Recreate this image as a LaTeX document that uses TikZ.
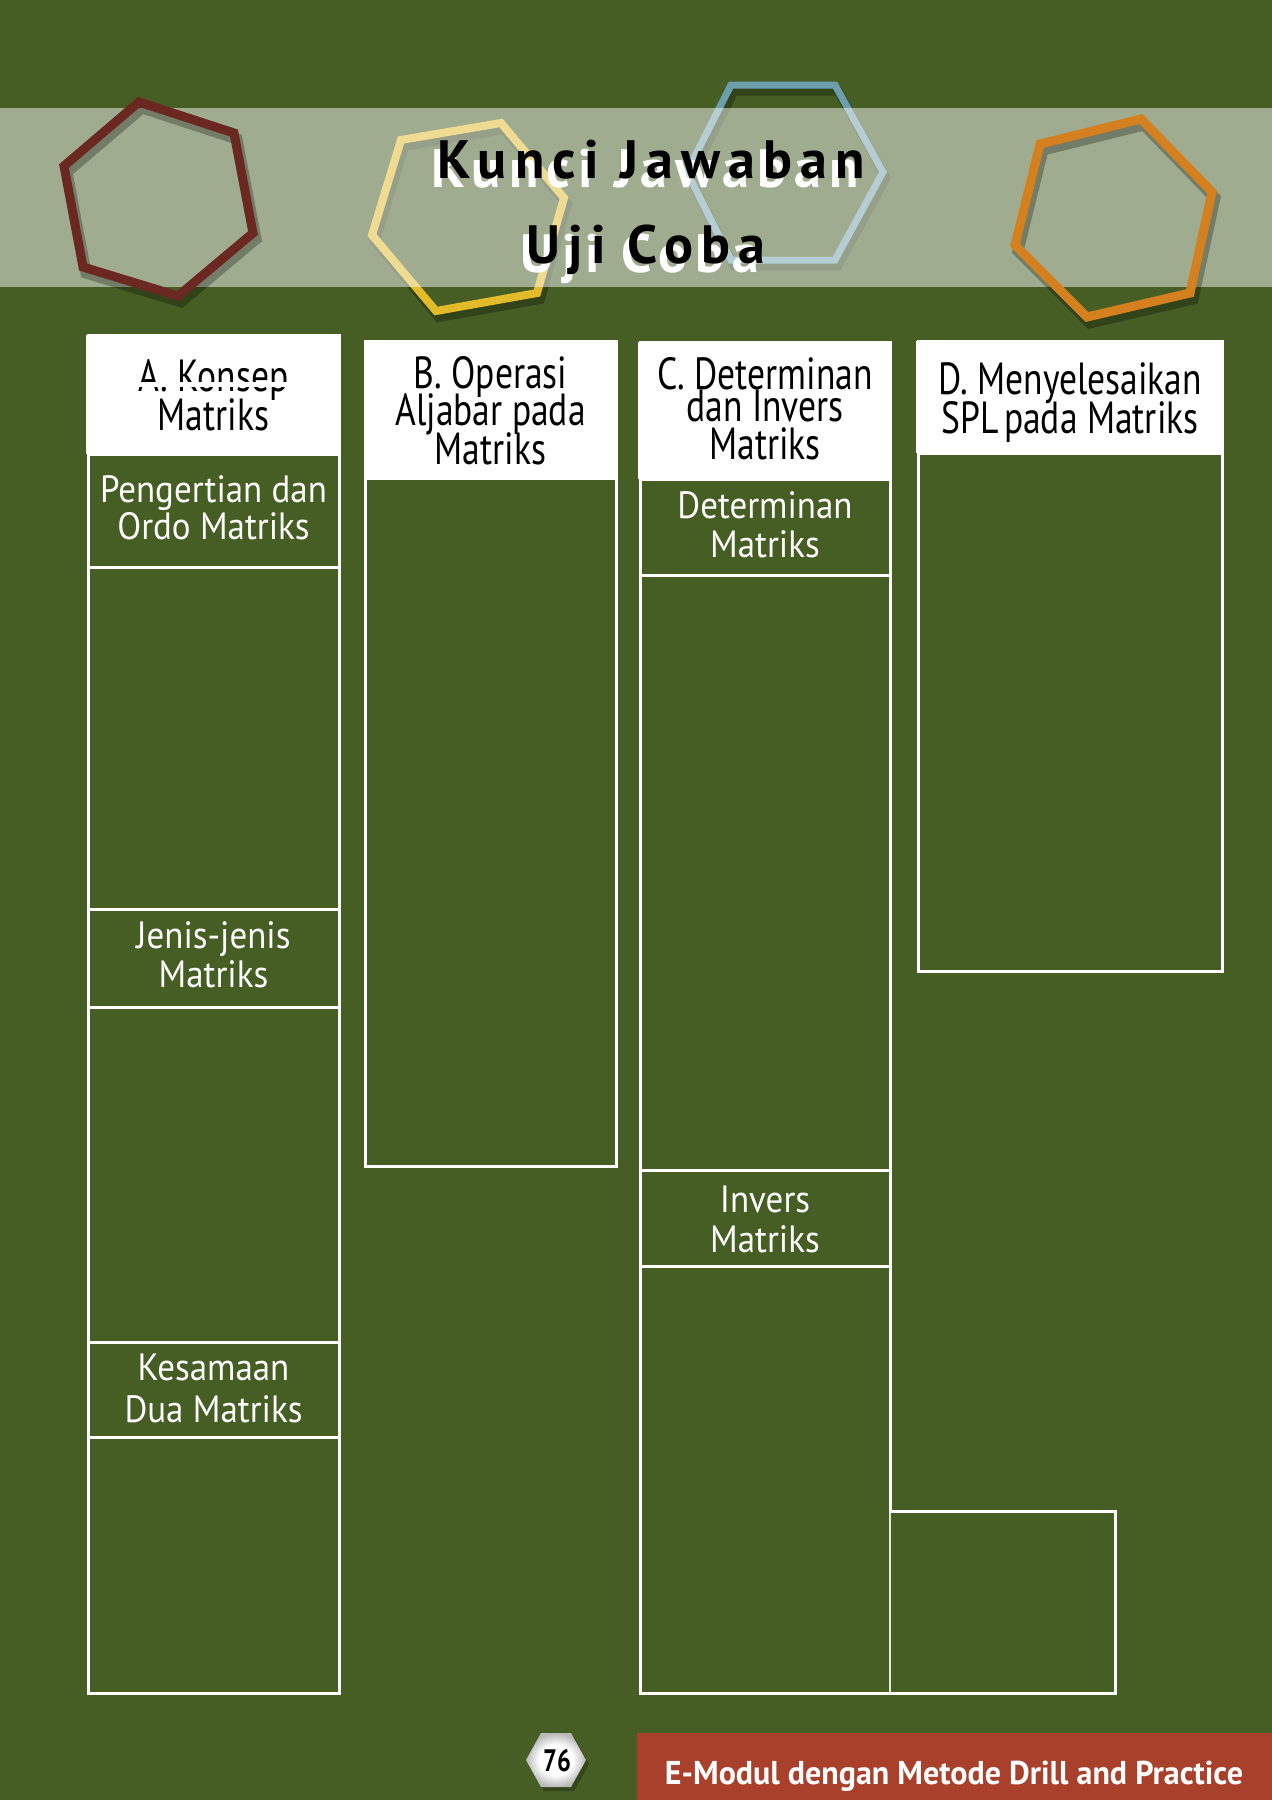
\documentclass[tikz,border=0pt]{standalone}
\usepackage{fontspec}
\setmainfont{PT Sans}
\newfontfamily\titlefont[LetterSpace=15]{PT Sans}
\newfontfamily\handfont[FakeStretch=0.79]{PT Sans}
\newfontfamily\subfont[FakeStretch=0.92]{PT Sans}
\newfontfamily\footfont[FakeStretch=0.97]{PT Sans}
\definecolor{bg}{HTML}{465E24}
\definecolor{hexbrown}{HTML}{6B2820}
\definecolor{hexyellow}{HTML}{E2BA2A}
\definecolor{hexteal}{HTML}{6C9FAB}
\definecolor{hexorange}{HTML}{D4801E}
\definecolor{barred}{HTML}{A8402C}
\pgfdeclareradialshading{pageshade}{\pgfpoint{0bp}{0bp}}{color(0bp)=(white); color(14bp)=(white); color(25bp)=(gray!55); color(50bp)=(gray!55)}
\begin{document}
\begin{tikzpicture}[x=1pt,y=-1pt,
  boxline/.style={draw=white,line width=3pt,line join=miter},
  hd/.style={font=\handfont\fontsize{45}{45}\selectfont,text=black,anchor=base,inner sep=0pt},
  sb/.style={font=\subfont\fontsize{38}{38}\selectfont,text=white,anchor=base,inner sep=0pt},
  ttl/.style={font=\titlefont\bfseries\fontsize{54}{54}\selectfont,anchor=base,inner sep=0pt},
  hexshadow/.style={draw=black,opacity=0.28,line join=miter},
  hexline/.style={line join=miter},
]
\useasboundingbox (0,0) rectangle (1272,1800);
\fill[bg] (0,0) rectangle (1272,1800);

% hexagons under the band
\draw[hexshadow,line width=10pt,shift={(3,6)}] (501,123) -- (564,198) -- (537,293) -- (436,311) -- (372,235) -- (401,140) -- cycle;
\draw[hexline,draw=hexyellow,line width=8pt] (501,123) -- (564,198) -- (537,293) -- (436,311) -- (372,235) -- (401,140) -- cycle;
\draw[hexshadow,line width=9pt,shift={(3,6)}] (731,85) -- (835,85) -- (883,172) -- (835,260) -- (731,260) -- (687,172) -- cycle;
\draw[hexline,draw=hexteal,line width=7pt] (731,85) -- (835,85) -- (883,172) -- (835,260) -- (731,260) -- (687,172) -- cycle;

% band
\fill[white,opacity=0.49] (0,108) rectangle (1272,287);

% title
\node[ttl,text=white] (t1s) at (645,187) {Kunci Jawaban};
\node[ttl,text=black] (t1) at (651,178) {Kunci Jawaban};
\node[ttl,text=white] (t2s) at (640,272) {Uji Coba};
\node[ttl,text=black] (t2) at (646,263) {Uji Coba};

% hexagons over the band
\draw[hexshadow,line width=11pt,shift={(3,6)}] (139,102) -- (234,133) -- (253,233) -- (178,296) -- (83,267) -- (64,166) -- cycle;
\draw[hexline,draw=hexbrown,line width=9pt] (139,102) -- (234,133) -- (253,233) -- (178,296) -- (83,267) -- (64,166) -- cycle;
\draw[hexshadow,line width=11pt,shift={(3,6)}] (1141,119) -- (1212,192) -- (1190,293) -- (1087,317) -- (1015,245) -- (1040,144) -- cycle;
\draw[hexline,draw=hexorange,line width=9pt] (1141,119) -- (1212,192) -- (1190,293) -- (1087,317) -- (1015,245) -- (1040,144) -- cycle;

% column A
\fill[white] (86,335) rectangle (341,454);
\draw[boxline] (88,335) rectangle (339,1693);
\draw[boxline] (88,454) -- (339,454);
\draw[boxline] (88,567) -- (339,567);
\draw[boxline] (88,909) -- (339,909);
\draw[boxline] (88,1007) -- (339,1007);
\draw[boxline] (88,1342) -- (339,1342);
\draw[boxline] (88,1437) -- (339,1437);

% column B
\fill[white] (364,341) rectangle (617,478);
\draw[boxline] (365,341) rectangle (616,1166);
\draw[boxline] (365,478) -- (616,478);

% column C with its extension
\fill[white] (638,342) rectangle (892,479);
\draw[boxline] (640,342) -- (890,342) -- (890,1511) -- (1115,1511) -- (1115,1693) -- (640,1693) -- cycle;
\draw[draw=white!85!bg,line width=1.3pt] (890,1511) -- (890,1693);
\draw[boxline] (640,479) -- (890,479);
\draw[boxline] (640,575) -- (890,575);
\draw[boxline] (640,1170) -- (890,1170);
\draw[boxline] (640,1266) -- (890,1266);

% column D
\fill[white] (916,341) rectangle (1224,453);
\draw[boxline] (918,341) rectangle (1222,971);
\draw[boxline] (918,453) -- (1222,453);

% header labels
\node[hd] (a1) at (213.5,391) {A. Konsep};
\fill[white] (132,382) rectangle (296,387);
\node[hd] (a2) at (213.5,430) {Matriks};

\node[hd] (b1) at (490.5,388) {B. Operasi};
\node[hd] (b2) at (490.5,425) {Aljabar pada};
\node[hd] (b3) at (490.5,464) {Matriks};

\node[hd] (c1) at (765,389) {C. Determinan};
\node[hd] (c2) at (765,421) {dan Invers};
\node[hd] (c3) at (765,459) {Matriks};

\node[hd] (d1) at (1070,394) {D. Menyelesaikan};
\node[hd] (d2) at (1070,433) {SPL\kern-4pt{} pada Matriks};

% sub labels
\node[sb] (p1) at (213.5,502) {Pengertian dan};
\node[sb] (p2) at (213.5,539) {Ordo Matriks};
\node[sb] (j1) at (213.5,948) {Jenis-jenis};
\node[sb] (j2) at (213.5,987) {Matriks};
\node[sb] (k1) at (213.5,1380) {Kesamaan};
\node[sb] (k2) at (213.5,1422) {Dua Matriks};
\node[sb] (e1) at (765,518) {Determinan};
\node[sb] (e2) at (765,557) {Matriks};
\node[sb] (i1) at (765,1212) {Invers};
\node[sb] (i2) at (765,1252) {Matriks};

% footer
\fill[barred] (637,1733) rectangle (1272,1800);
\node[font=\footfont\bfseries\fontsize{33}{33}\selectfont,text=white,anchor=base,inner sep=0pt] (foot) at (954,1784) {E-Modul dengan Metode Drill and Practice};
\fill[black,opacity=0.25] (529,1764) -- (544,1737) -- (574,1737) -- (589,1764) -- (574,1791) -- (544,1791) -- cycle;
\shade[shading=pageshade] (526,1760) -- (541,1733) -- (571,1733) -- (586,1760) -- (571,1787) -- (541,1787) -- cycle;
\node[font=\handfont\bfseries\fontsize{31}{31}\selectfont,text=black,anchor=base,inner sep=0pt] (pg) at (557,1771) {76};
\end{tikzpicture}
\end{document}
